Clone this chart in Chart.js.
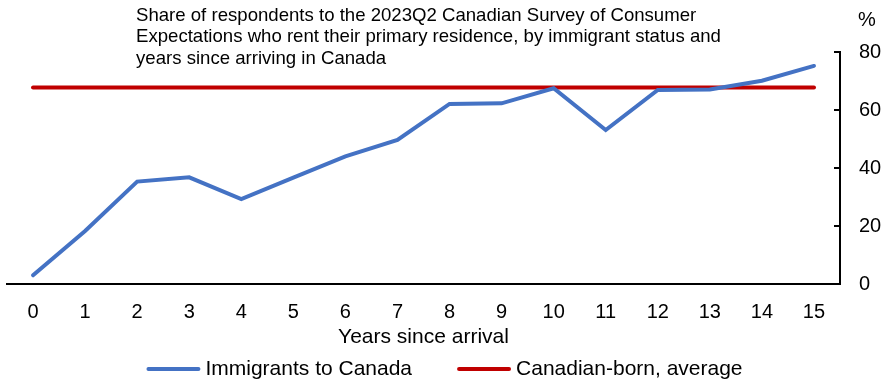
<!DOCTYPE html>
<html>
<head>
<meta charset="utf-8">
<script src="https://cdn.jsdelivr.net/npm/chart.js@4/dist/chart.umd.min.js"></script>
<style>
    html, body { margin: 0; padding: 0; background: #fff; }
    #wrap { width: 883px; height: 383px; }
</style>
</head>
<body>
<div id="wrap"><canvas id="rentChart" width="883" height="383"></canvas></div>
<script>
// years since arrival (x axis)
var years = ["0", "1", "2", "3", "4", "5", "6", "7", "8", "9", "10", "11", "12", "13", "14", "15"];
// share who rent, immigrants (%)
var immigrants = [3, 18.3, 35.3, 36.8, 29.3, 36.7, 44, 49.7, 62.1, 62.3, 67.5, 53.1, 66.9, 67.1, 70.1, 75.2];
// Canadian-born average (%)
var canadianBorn = [67.8, 67.8, 67.8, 67.8, 67.8, 67.8, 67.8, 67.8, 67.8, 67.8, 67.8, 67.8, 67.8, 67.8, 67.8, 67.8];
var yTicks = [0, 20, 40, 60, 80];
var titleLines = [
    "Share of respondents to the 2023Q2 Canadian Survey of Consumer",
    "Expectations who rent their primary residence, by immigrant status and",
    "years since arriving in Canada"
];

var FONT = "'Liberation Sans', Arial, sans-serif";

// note text at the top, "%" unit, inward ticks on the right axis, legend at the bottom
var extras = {
    id: 'extras',
    afterDraw: function (chart) {
        var ctx = chart.ctx;
        var y = chart.scales.y;
        ctx.save();
        ctx.fillStyle = '#000';
        ctx.textBaseline = 'alphabetic';
        ctx.textAlign = 'left';
        ctx.font = '18.6px ' + FONT;
        titleLines.forEach(function (t, i) {
            ctx.fillText(t, 136, 21 + i * 21.4);
        });
        ctx.font = '20px ' + FONT;
        ctx.textBaseline = 'middle';
        ctx.fillText('%', 858, 20);

        // tick marks pointing into the plot
        ctx.strokeStyle = '#000';
        ctx.lineWidth = 2;
        yTicks.forEach(function (v) {
            var py = Math.round(y.getPixelForValue(v));
            ctx.beginPath();
            ctx.moveTo(y.left - 6, py);
            ctx.lineTo(y.left, py);
            ctx.stroke();
        });

        // legend
        ctx.font = '21px ' + FONT;
        var sample = 54, gap = 5, between = 45, ly = 369;
        var ds = chart.data.datasets;
        var total = 0;
        ds.forEach(function (d, i) {
            total += sample + gap + ctx.measureText(d.label).width + (i > 0 ? between : 0);
        });
        var lx = (chart.width - total) / 2 + 3;
        ds.forEach(function (d) {
            ctx.strokeStyle = d.borderColor;
            ctx.lineWidth = 4;
            ctx.lineCap = 'round';
            ctx.beginPath();
            ctx.moveTo(lx + 2, ly);
            ctx.lineTo(lx + sample - 2, ly);
            ctx.stroke();
            ctx.fillStyle = '#000';
            ctx.fillText(d.label, lx + sample + gap, ly);
            lx += sample + gap + ctx.measureText(d.label).width + between;
        });
        ctx.restore();
    }
};

new Chart(document.getElementById('rentChart'), {
    type: 'line',
    data: {
        labels: years,
        datasets: [
            {
                label: 'Immigrants to Canada',
                data: immigrants,
                borderColor: '#4472C4',
                backgroundColor: '#4472C4',
                borderWidth: 4,
                pointRadius: 0,
                borderCapStyle: 'round',
                tension: 0
            },
            {
                label: 'Canadian-born, average',
                data: canadianBorn,
                borderColor: '#C00000',
                backgroundColor: '#C00000',
                borderWidth: 4,
                pointRadius: 0,
                borderCapStyle: 'round',
                tension: 0
            }
        ]
    },
    options: {
        responsive: false,
        animation: false,
        layout: { padding: { top: 52, left: 7, right: 0, bottom: 33 } },
        plugins: {
            tooltip: { enabled: false },
            legend: { display: false }
        },
        scales: {
            x: {
                offset: true,
                grid: { display: false, drawTicks: false },
                border: { display: true, color: '#000', width: 2 },
                ticks: {
                    color: '#000',
                    font: { family: FONT, size: 20 },
                    padding: 16,
                    maxRotation: 0,
                    autoSkip: false
                },
                title: {
                    display: true,
                    text: 'Years since arrival',
                    color: '#000',
                    font: { family: FONT, size: 21 },
                    padding: { top: 3, bottom: 0 }
                },
                afterFit: function (scale) {
                    scale.height = 66;
                }
            },
            y: {
                position: 'right',
                min: 0,
                max: 80,
                grid: { display: false, drawTicks: false },
                border: { display: true, color: '#000', width: 2 },
                ticks: {
                    stepSize: 20,
                    color: '#000',
                    font: { family: FONT, size: 20 },
                    padding: 19
                },
                afterFit: function (scale) {
                    scale.width = 43;
                }
            }
        }
    },
    plugins: [extras]
});
</script>
</body>
</html>
